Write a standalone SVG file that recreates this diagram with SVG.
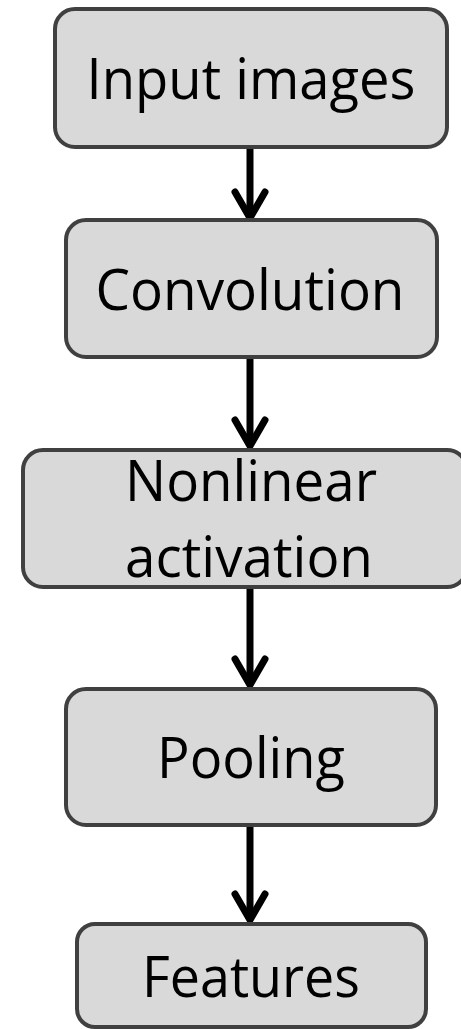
<svg xmlns="http://www.w3.org/2000/svg" width="461" height="1029" viewBox="0 0 461 1029">
  <style>
    .box { fill: #d9d9d9; stroke: #404040; stroke-width: 4; }
    .label { font-family: "Open Sans", "Liberation Sans", sans-serif; font-size: 57px; fill: #000; text-anchor: middle; }
    .edge { stroke: #000; stroke-width: 7; fill: none; }
    .head { stroke: #000; stroke-width: 7; fill: none; stroke-linecap: round; stroke-linejoin: miter; }
  </style>
  <rect width="461" height="1029" fill="#fff"/>

  <g id="connectors">
    <line class="edge" x1="250" y1="147" x2="250" y2="214"/>
    <polyline class="head" points="235,192 250,218 265,192"/>
    <line class="edge" x1="250" y1="357" x2="250" y2="443"/>
    <polyline class="head" points="235,420 250,446 265,420"/>
    <line class="edge" x1="250" y1="587" x2="250" y2="682"/>
    <polyline class="head" points="235,659 250,685 265,659"/>
    <line class="edge" x1="250" y1="825" x2="250" y2="917"/>
    <polyline class="head" points="235,894 250,920 265,894"/>
  </g>

  <g id="input-images">
    <rect class="box" x="55" y="9" width="392" height="138" rx="20"/>
    <text class="label" x="251" y="99" textLength="329" lengthAdjust="spacingAndGlyphs">Input images</text>
  </g>

  <g id="convolution">
    <rect class="box" x="66" y="220" width="371" height="137" rx="20"/>
    <text class="label" x="250" y="310" textLength="309" lengthAdjust="spacingAndGlyphs">Convolution</text>
  </g>

  <g id="nonlinear-activation">
    <rect class="box" x="23" y="450" width="444" height="137" rx="20"/>
    <text class="label" x="251" y="501" textLength="252" lengthAdjust="spacingAndGlyphs">Nonlinear</text>
    <text class="label" x="249" y="577" textLength="248" lengthAdjust="spacingAndGlyphs">activation</text>
  </g>

  <g id="pooling">
    <rect class="box" x="66" y="689" width="370" height="136" rx="20"/>
    <text class="label" x="251" y="778" textLength="188" lengthAdjust="spacingAndGlyphs">Pooling</text>
  </g>

  <g id="features">
    <rect class="box" x="77" y="924" width="349" height="103" rx="18"/>
    <text class="label" x="251" y="997" textLength="218" lengthAdjust="spacingAndGlyphs">Features</text>
  </g>
</svg>
